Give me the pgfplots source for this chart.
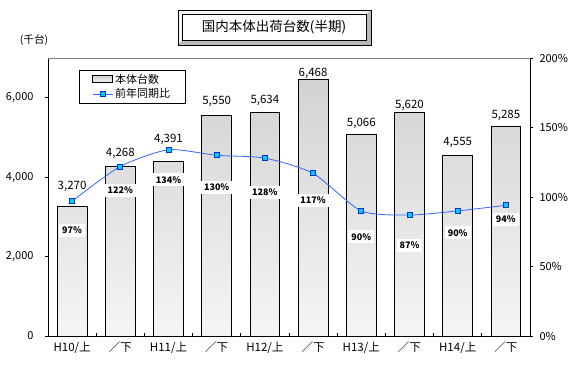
\documentclass[border=0pt]{standalone}
\usepackage{pgfplots}
\pgfplotsset{compat=1.18}
\usepackage{pgfplotstable}
\usepackage{fontspec}
\setmainfont{Noto Sans CJK JP}
\definecolor{linecol}{RGB}{51,102,255}
\definecolor{markfill}{RGB}{0,204,255}
\definecolor{markdraw}{RGB}{0,51,204}
\pgfplotsset{
  mylinelegend/.style={legend image code/.code={\draw[linecol, line width=0.8pt] (0pt,0pt) -- (20pt,0pt); \draw[fill=markfill, draw=markdraw, line width=0.6pt] (7.5pt,-2.5pt) rectangle (12.5pt,2.5pt);}},
  mybarlegend/.style={legend image code/.code={\draw[black, line width=0.6pt, fill=gray!25] (0pt,-3.5pt) rectangle (20pt,3.5pt);}},
}
\pgfplotstableread{
x y dy
0 3270 17
1 4268 10
2 4391 19
3 5550 11
4 5634 9
5 6468 3
6 5066 8
7 5620 4
8 4555 10
9 5285 8
}\bars
\pgfplotstableread{
x y dy
0 97 29
1 122 24
2 134 30
3 130 32
4 128 34
5 117 27
6 90 26
7 87 30
8 90 22
9 94 14
}\ratio
\begin{document}
\begin{tikzpicture}[x=1pt,y=1pt]
\path[use as bounding box] (0,0) rectangle (587,365);
% title box
\fill[gray!55] (178,320) rectangle (371,355);
\fill[gray!8] (178,355) -- (371,355) -- (366,351) -- (182,351) -- (182,325) -- (178,320) -- cycle;
\draw[black] (178,320) rectangle (371,355);
\draw[black,fill=white] (182,325) rectangle (366,351);
\node[font=\fontsize{13.5}{15}\selectfont] at (274,338) {国内本体出荷台数(半期)};
\node[font=\fontsize{10.5}{12}\selectfont] at (34,325) {(千台)};
\begin{axis}[
  at={(48pt,29pt)}, anchor=south west,
  width=482pt, height=278pt, scale only axis,
  xmin=-0.5, xmax=9.5, ymin=0, ymax=7000,
  axis x line*=bottom, axis y line*=left,
  axis line style={black, line width=0.8pt},
  ybar, bar width=0.62,
  xtick={0.5,1.5,...,8.5}, xticklabels={},
  xtick align=inside,
  extra x ticks={0,1,...,9},
  extra x tick labels={H10/上,／下,H11/上,／下,H12/上,／下,H13/上,／下,H14/上,／下},
  extra x tick style={major tick length=0pt, tick label style={font=\fontsize{11.5}{12}\selectfont, yshift=-2pt}},
  major tick length=3pt,
  ytick={0,2000,4000,6000},
  ytick align=outside,
  scaled y ticks=false,
  tick style={black, line width=0.6pt},
  yticklabel style={font=\fontsize{11}{12}\selectfont, xshift=-8pt},
  /pgf/number format/.cd, 1000 sep={,}, assume math mode=true, /pgfplots/.cd,
  legend style={at={(0.0643,0.957)}, anchor=north west, draw=black, line width=0.8pt,
    font=\fontsize{11}{12}\selectfont, inner xsep=13pt, inner ysep=1.5pt, row sep=0pt,
    nodes={inner xsep=2pt, inner ysep=2pt},
    /tikz/every odd column/.append style={column sep=0pt},
    cells={anchor=west}},
  after end axis/.code={\draw[gray,line width=0.8pt] (rel axis cs:0,1) -- (rel axis cs:1,1);},
]
\addplot[draw=black, line width=0.8pt, top color=gray!35, bottom color=gray!8,
  nodes near coords,
  visualization depends on={\thisrow{dy}\as\dy},
  every node near coord/.append style={anchor=base, yshift=\dy pt, font=\fontsize{11.5}{12}\selectfont, black},
  mybarlegend
  ] table[x=x,y=y] {\bars};
\addlegendentry{本体台数}
\addlegendimage{mylinelegend}
\addlegendentry{前年同期比}
\end{axis}
\begin{axis}[
  at={(48pt,29pt)}, anchor=south west,
  width=482pt, height=278pt, scale only axis,
  xmin=-0.5, xmax=9.5, ymin=0, ymax=200,
  axis y line*=right, axis x line=none,
  axis line style={black, line width=0.8pt},
  ytick={0,50,...,200},
  ytick align=outside, major tick length=3pt,
  tick style={black, line width=0.6pt},
  yticklabel={\pgfmathprintnumber{\tick}\%},
  yticklabel style={font=\fontsize{11}{12}\selectfont, xshift=3pt},
  /pgf/number format/.cd, assume math mode=true, /pgfplots/.cd,
]
\addplot[linecol, line width=0.8pt, smooth, tension=0.4,
  mark=square*, mark size=2.5pt, mark options={fill=markfill, draw=markdraw, solid},
  nodes near coords={\pgfmathprintnumber{\pgfplotspointmeta}\%},
  visualization depends on={\thisrow{dy}\as\dy},
  every node near coord/.append style={anchor=center, yshift=-\dy pt, fill=white, text=black,
    font=\bfseries\fontsize{9}{10}\selectfont, inner xsep=3pt, inner ysep=3pt}
  ] table[x=x,y=y] {\ratio};
\end{axis}
\end{tikzpicture}
\end{document}
